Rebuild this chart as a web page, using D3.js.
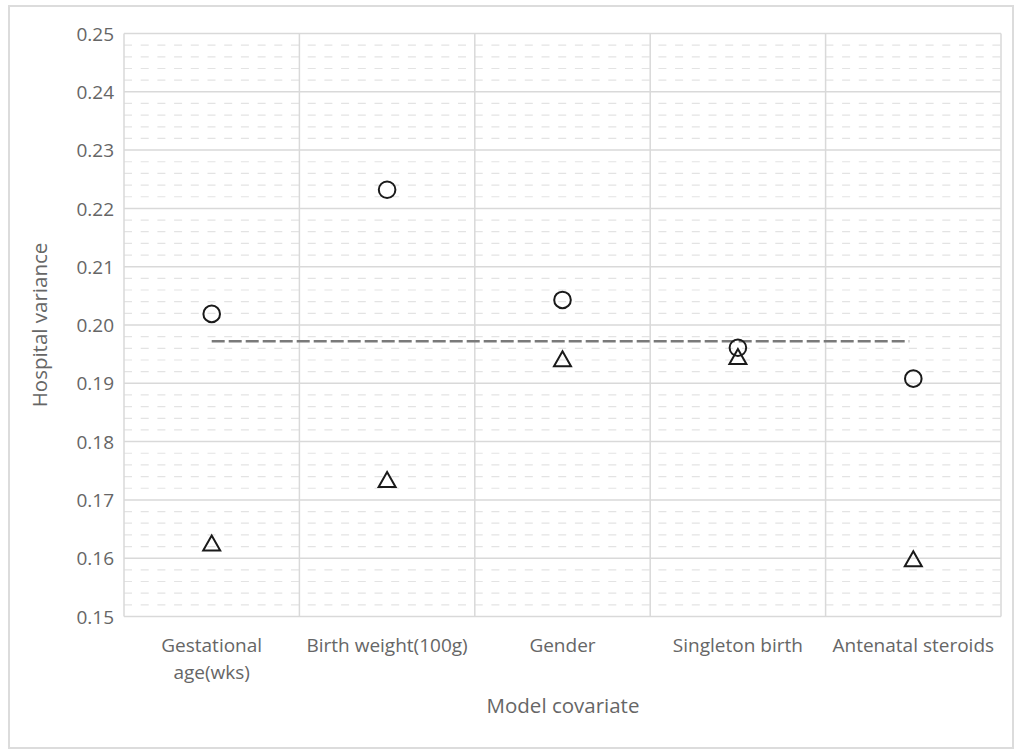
<!DOCTYPE html>
<html>
<head>
<meta charset="utf-8">
<script src="https://cdn.jsdelivr.net/npm/d3@7"></script>
<style>
  html, body { margin: 0; padding: 0; background: #fff; }
  text { font-family: "Open Sans", "Liberation Sans", sans-serif; fill: #666666; }
</style>
</head>
<body>
<svg id="chart" width="1023" height="749"></svg>
<script>
const categories = ["Gestational age(wks)", "Birth weight(100g)", "Gender", "Singleton birth", "Antenatal steroids"];
const categoryLines = [["Gestational", "age(wks)"], ["Birth weight(100g)"], ["Gender"], ["Singleton birth"], ["Antenatal steroids"]];
const circleValues = [0.2019, 0.2232, 0.2043, 0.1961, 0.1908];
const triangleValues = [0.1626, 0.1735, 0.1942, 0.1946, 0.1599];
const referenceValue = 0.1972;
const yTicks = [0.15, 0.16, 0.17, 0.18, 0.19, 0.20, 0.21, 0.22, 0.23, 0.24, 0.25];
const yDomain = [0.15, 0.25];
const minorStep = 0.002;

const svg = d3.select("#chart");
const margin = { left: 124, right: 1001, top: 33.5, bottom: 616.5 };

// outer border
svg.append("rect").attr("x", 9).attr("y", 6).attr("width", 1004).attr("height", 742)
  .attr("fill", "none").attr("stroke", "#dcdcdc").attr("stroke-width", 2);

const x = d3.scaleBand().domain(categories).range([margin.left, margin.right]).padding(0);
const y = d3.scaleLinear().domain(yDomain).range([margin.bottom, margin.top]);

// minor dashed grid
const minorTicks = d3.range(0, 51).map(i => +(yDomain[0] + i * minorStep).toFixed(4))
  .filter(v => !yTicks.some(t => Math.abs(t - v) < 1e-6));
svg.append("g").selectAll("line").data(minorTicks).join("line")
  .attr("x1", margin.left).attr("x2", margin.right)
  .attr("y1", d => y(d)).attr("y2", d => y(d))
  .attr("stroke", "#e3e3e3").attr("stroke-width", 1.2)
  .attr("stroke-dasharray", "8,8.7");

// major horizontal grid
svg.append("g").selectAll("line").data(yTicks).join("line")
  .attr("x1", margin.left).attr("x2", margin.right)
  .attr("y1", d => y(d)).attr("y2", d => y(d))
  .attr("stroke", "#d9d9d9").attr("stroke-width", 1.5);

// vertical category boundaries
const bounds = categories.map(c => x(c)).concat([margin.right]);
svg.append("g").selectAll("line").data(bounds).join("line")
  .attr("x1", d => d).attr("x2", d => d)
  .attr("y1", margin.top).attr("y2", margin.bottom)
  .attr("stroke", "#d9d9d9").attr("stroke-width", 1.5);

// y axis labels
const yAxis = d3.axisLeft(y).tickValues(yTicks).tickFormat(d3.format(".2f")).tickSize(0).tickPadding(10);
const gy = svg.append("g").attr("transform", `translate(${margin.left},0)`).call(yAxis);
gy.select(".domain").remove();
gy.selectAll("text").style("font-size", "19px").style("font-family", "'Open Sans', sans-serif")
  .attr("fill", "#666666").attr("dy", "0.35em");

// x category labels
const gx = svg.append("g");
categories.forEach((c, i) => {
  const t = gx.append("text").attr("x", x(c) + x.bandwidth() / 2).attr("y", 652)
    .attr("text-anchor", "middle").style("font-size", "19px");
  categoryLines[i].forEach((ln, j) => {
    t.append("tspan").attr("x", x(c) + x.bandwidth() / 2).attr("dy", j === 0 ? 0 : 27).text(ln);
  });
});

// axis titles
svg.append("text").attr("x", 563).attr("y", 713).attr("text-anchor", "middle")
  .style("font-size", "20.5px").text("Model covariate");
svg.append("text").attr("transform", "translate(47,325) rotate(-90)").attr("text-anchor", "middle")
  .style("font-size", "20.5px").text("Hospital variance");

// reference dashed line
const cx = c => x(c) + x.bandwidth() / 2;
svg.append("line")
  .attr("x1", cx(categories[0])).attr("x2", cx(categories[categories.length - 1]) - 4)
  .attr("y1", y(referenceValue)).attr("y2", y(referenceValue))
  .attr("stroke", "#7a7a7a").attr("stroke-width", 2.5).attr("stroke-dasharray", "13,4");

// triangles (box-centred on the value)
const tw = 17, th = 15;
const triPath = `M0,${-th / 2}L${tw / 2},${th / 2}L${-tw / 2},${th / 2}Z`;
svg.append("g").selectAll("path").data(triangleValues).join("path")
  .attr("d", triPath)
  .attr("transform", (d, i) => `translate(${cx(categories[i])},${y(d)})`)
  .attr("fill", "none").attr("stroke", "#1a1a1a").attr("stroke-width", 2);

// circles
svg.append("g").selectAll("circle").data(circleValues).join("circle")
  .attr("cx", (d, i) => cx(categories[i])).attr("cy", d => y(d)).attr("r", 8.3)
  .attr("fill", "none").attr("stroke", "#1a1a1a").attr("stroke-width", 2);
</script>
</body>
</html>
